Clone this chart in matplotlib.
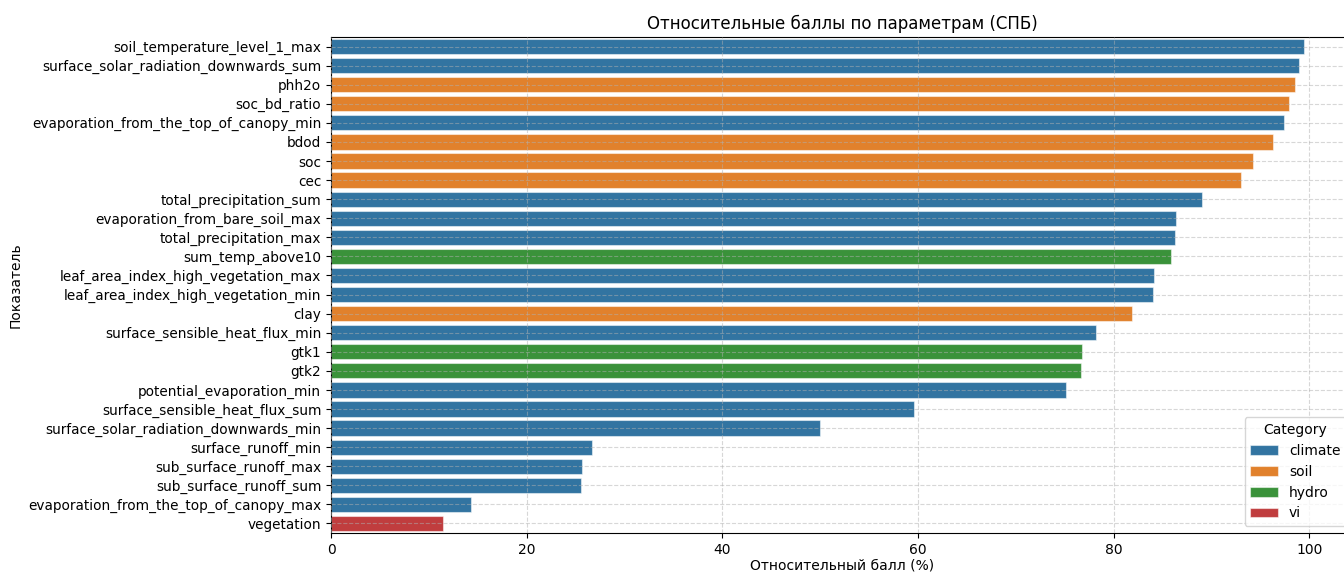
import matplotlib as mpl; mpl.use("Agg")
import matplotlib.pyplot as plt
import pandas as pd
import seaborn as sns

# bars, top to bottom
names = ["soil_temperature_level_1_max", "surface_solar_radiation_downwards_sum", "phh2o",
         "soc_bd_ratio", "evaporation_from_the_top_of_canopy_min", "bdod", "soc", "cec",
         "total_precipitation_sum", "evaporation_from_bare_soil_max", "total_precipitation_max",
         "sum_temp_above10", "leaf_area_index_high_vegetation_max",
         "leaf_area_index_high_vegetation_min", "clay", "surface_sensible_heat_flux_min",
         "gtk1", "gtk2", "potential_evaporation_min", "surface_sensible_heat_flux_sum",
         "surface_solar_radiation_downwards_min", "surface_runoff_min", "sub_surface_runoff_max",
         "sub_surface_runoff_sum", "evaporation_from_the_top_of_canopy_max", "vegetation"]
scores = [99.5, 99.0, 98.5, 97.9, 97.4, 96.3, 94.3, 93.0, 89.0, 86.4, 86.3, 85.9, 84.1,
          84.0, 81.9, 78.2, 76.8, 76.7, 75.1, 59.6, 50.0, 26.7, 25.7, 25.6, 14.3, 11.4]
cats = ["climate", "climate", "soil", "soil", "climate", "soil", "soil", "soil", "climate",
        "climate", "climate", "hydro", "climate", "climate", "soil", "climate", "hydro",
        "hydro", "climate", "climate", "climate", "climate", "climate", "climate", "climate", "vi"]
cat_order = ["climate", "soil", "hydro", "vi"]

df = pd.DataFrame({"name": names, "score": scores, "Category": cats})

fig = plt.figure(figsize=(13.44, 5.72), dpi=100)
ax = fig.add_axes([0.2463, 0.0682, 0.7604, 0.8671])
sns.barplot(data=df, y="name", x="score", hue="Category", hue_order=cat_order,
            palette="tab10", dodge=False, orient="h", ax=ax,
            edgecolor=(1, 1, 1, 0.5), linewidth=0.8)
ax.grid(True, ls="--", alpha=0.5)
ax.set_axisbelow(False)
ax.tick_params(axis="y", labelsize=9.8)
ax.set_title("Относительные баллы по параметрам (СПБ)", fontsize=12)
ax.set_xlabel("Относительный балл (%)", labelpad=1)
ax.set_ylabel("Показатель")
ax.legend(title="Category", loc="lower right")
fig.savefig("out.png", dpi=100)
